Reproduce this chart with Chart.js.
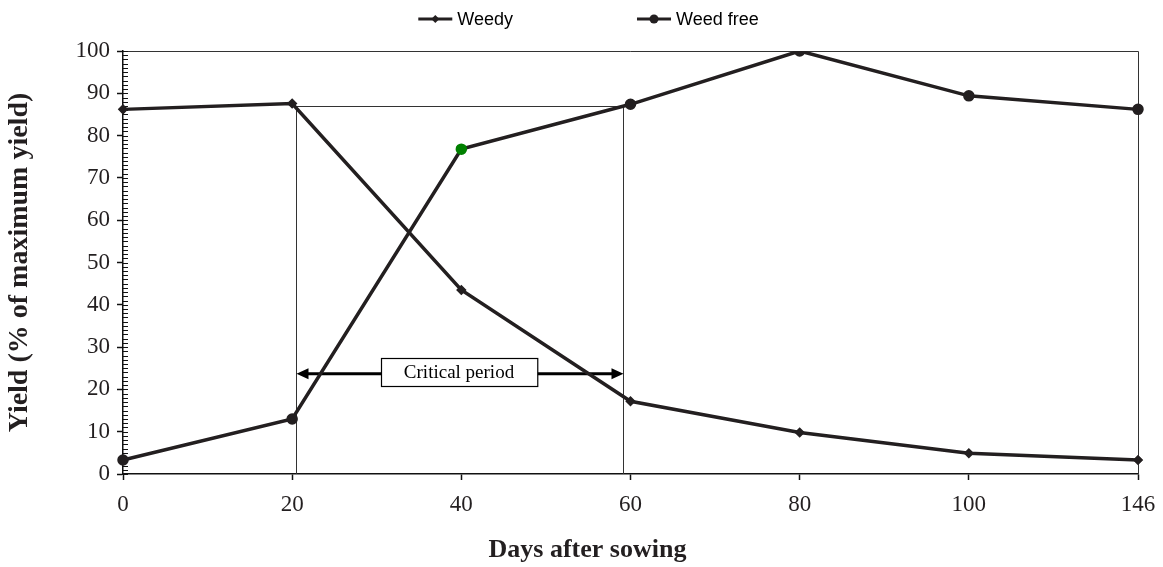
<!DOCTYPE html>
<html>
<head>
<meta charset="utf-8">
<script src="https://cdn.jsdelivr.net/npm/chart.js@4.4.1/dist/chart.umd.min.js"></script>
<style>
  html, body { margin: 0; padding: 0; background: #fff; }
  #wrap { width: 1163px; height: 567px; }
</style>
</head>
<body>
<div id="wrap"><canvas id="chart" width="1163" height="567"></canvas></div>
<script>
// data
const days = ['0', '20', '40', '60', '80', '100', '146'];
const weedy = [86.2, 87.6, 43.5, 17.2, 9.8, 4.9, 3.3];
const weedFree = [3.3, 13.0, 76.8, 87.4, 100, 89.4, 86.2];
const weedFreeColors = ['#231f20', '#231f20', '#008000', '#231f20', '#231f20', '#231f20', '#231f20'];

// critical period (x in category index units, y in % yield)
const critStart = 1.02;
const critEnd = 2.955;
const critTop = 87;
const critArrowY = 23.7;
const critLabel = 'Critical period';

const xTitle = 'Days after sowing';
const yTitle = 'Yield (% of maximum yield)';

const ink = '#231f20';
const serif = '"Liberation Serif", "Times New Roman", serif';
const sans = '"Liberation Sans", Arial, sans-serif';

// top/right frame, minor ticks and the critical period marks
const extras = {
  id: 'extras',
  beforeDatasetsDraw(chart) {
    const { ctx, chartArea: a, scales: { x, y } } = chart;
    ctx.save();
    ctx.strokeStyle = '#333';
    ctx.lineWidth = 1;
    ctx.beginPath();
    ctx.moveTo(a.left, Math.round(a.top) + 0.5);
    ctx.lineTo(Math.round(a.right) + 0.5, Math.round(a.top) + 0.5);
    ctx.lineTo(Math.round(a.right) + 0.5, a.bottom);
    ctx.stroke();

    ctx.strokeStyle = '#111';
    ctx.beginPath();
    for (let v = 0; v <= 100; v++) {
      const py = Math.round(y.getPixelForValue(v)) + 0.5;
      ctx.moveTo(a.left, py);
      ctx.lineTo(a.left + 5, py);
    }
    ctx.stroke();

    const x1 = Math.round(x.getPixelForValue(critStart)) + 0.5;
    const x2 = Math.round(x.getPixelForValue(critEnd)) + 0.5;
    const yt = Math.round(y.getPixelForValue(critTop)) + 0.5;
    const y0 = y.getPixelForValue(0);
    ctx.strokeStyle = '#333';
    ctx.lineWidth = 1;
    ctx.beginPath();
    ctx.moveTo(x1, y0);
    ctx.lineTo(x1, yt);
    ctx.lineTo(x2, yt);
    ctx.lineTo(x2, y0);
    ctx.stroke();

    const ya = y.getPixelForValue(critArrowY);
    ctx.strokeStyle = '#000';
    ctx.fillStyle = '#000';
    ctx.lineWidth = 3;
    ctx.beginPath();
    ctx.moveTo(x1 + 8, ya);
    ctx.lineTo(x2 - 8, ya);
    ctx.stroke();
    ctx.beginPath();
    ctx.moveTo(x1, ya); ctx.lineTo(x1 + 12, ya - 5.5); ctx.lineTo(x1 + 12, ya + 5.5); ctx.closePath();
    ctx.moveTo(x2, ya); ctx.lineTo(x2 - 12, ya - 5.5); ctx.lineTo(x2 - 12, ya + 5.5); ctx.closePath();
    ctx.fill();

    ctx.font = '19px ' + serif;
    const tw = ctx.measureText(critLabel).width;
    const bw = tw + 46, bh = 28;
    const cx = (x1 + x2) / 2 - 1;
    const bx = Math.round(cx - bw / 2) + 0.5, by = Math.round(ya - bh / 2 - 2) + 0.5;
    ctx.fillStyle = '#fff';
    ctx.fillRect(bx, by, bw, bh);
    ctx.lineWidth = 1.2;
    ctx.strokeRect(bx, by, bw, bh);
    ctx.fillStyle = '#000';
    ctx.textAlign = 'center';
    ctx.textBaseline = 'middle';
    ctx.fillText(critLabel, cx, by + bh / 2 + 1);
    ctx.restore();
  },
  afterDraw(chart) {
    const { ctx } = chart;
    ctx.save();
    // x axis title
    ctx.font = 'bold 26px ' + serif;
    ctx.fillStyle = ink;
    ctx.textAlign = 'center';
    ctx.textBaseline = 'middle';
    ctx.fillText(xTitle, chart.width / 2 + 6, 550);

    // legend: line sample with marker, then the label
    ctx.font = '18px ' + sans;
    const items = chart.data.datasets.map(d => ({ label: d.label, style: d.pointStyle }));
    const sw = 34, gap = 5, spacing = 124;
    const widths = items.map(it => sw + gap + ctx.measureText(it.label).width);
    const total = widths.reduce((s, w) => s + w, 0) + spacing * (items.length - 1);
    let lx = chart.width / 2 - total / 2 + 7;
    const ly = 19;
    items.forEach((it, i) => {
      ctx.strokeStyle = ink;
      ctx.fillStyle = ink;
      ctx.lineWidth = 3;
      ctx.beginPath();
      ctx.moveTo(lx, ly);
      ctx.lineTo(lx + sw, ly);
      ctx.stroke();
      const mx = lx + sw / 2;
      ctx.beginPath();
      if (it.style === 'rectRot') {
        ctx.moveTo(mx, ly - 4); ctx.lineTo(mx + 4, ly); ctx.lineTo(mx, ly + 4); ctx.lineTo(mx - 4, ly); ctx.closePath();
      } else {
        ctx.arc(mx, ly, 4.5, 0, Math.PI * 2);
      }
      ctx.fill();
      ctx.fillStyle = '#000';
      ctx.textAlign = 'left';
      ctx.textBaseline = 'middle';
      ctx.fillText(it.label, lx + sw + gap, ly + 1);
      lx += widths[i] + spacing;
    });
    ctx.restore();
  }
};

new Chart(document.getElementById('chart'), {
  type: 'line',
  data: {
    labels: days,
    datasets: [
      {
        label: 'Weedy',
        data: weedy,
        borderColor: ink,
        backgroundColor: ink,
        borderWidth: 3.5,
        pointStyle: 'rectRot',
        pointRadius: 4.2,
        pointBorderWidth: 1.5,
        pointBackgroundColor: ink,
        pointBorderColor: ink,
        tension: 0
      },
      {
        label: 'Weed free',
        data: weedFree,
        borderColor: ink,
        backgroundColor: ink,
        borderWidth: 3.5,
        pointStyle: 'circle',
        pointRadius: 4,
        pointBackgroundColor: weedFreeColors,
        pointBorderColor: weedFreeColors,
        tension: 0
      }
    ]
  },
  options: {
    responsive: false,
    animation: false,
    devicePixelRatio: 1,
    layout: { padding: { top: 51, right: 25, left: 0, bottom: 0 } },
    plugins: {
      legend: { display: false },
      tooltip: { enabled: false }
    },
    scales: {
      x: {
        type: 'category',
        offset: false,
        afterFit: s => { s.height = 93; s.paddingLeft = 0; s.paddingRight = 0; },
        grid: { drawOnChartArea: false, drawTicks: true, tickLength: 6, tickColor: '#111', tickWidth: 1.5 },
        border: { color: '#111', width: 1.5 },
        ticks: { color: ink, font: { family: serif, size: 23 }, padding: 11, maxRotation: 0, autoSkip: false }
      },
      y: {
        min: 0,
        max: 100,
        afterFit: s => { s.width = 123; },
        grid: { drawOnChartArea: false, drawTicks: true, tickLength: 6, tickColor: '#111', tickWidth: 1.5 },
        border: { color: '#111', width: 1.5 },
        ticks: { stepSize: 10, color: ink, font: { family: serif, size: 23 }, padding: 7 },
        title: {
          display: true,
          text: yTitle,
          color: ink,
          font: { family: serif, size: 28, weight: 'bold' },
          padding: { top: 2.5, bottom: 0 }
        }
      }
    }
  },
  plugins: [extras]
});
</script>
</body>
</html>
